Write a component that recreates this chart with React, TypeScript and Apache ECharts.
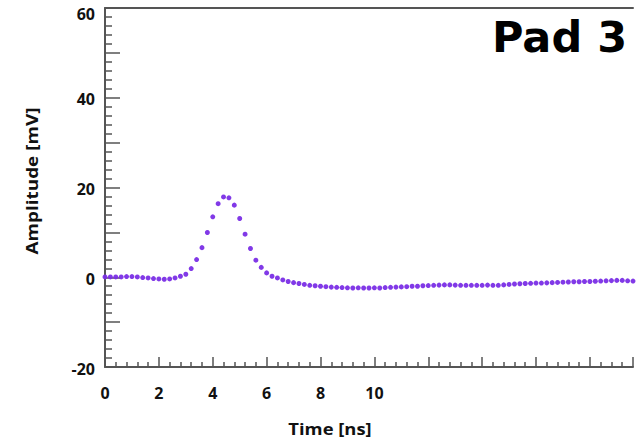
import React, { useEffect, useRef } from "react";
import * as echarts from "echarts";

// Sampling step of the waveform (ns)
const timeStepNs = 0.2;

// Amplitude samples [mV], one every 0.2 ns starting at t = 0
const amplitudeMv: number[] = [
  0.07, 0.07, 0.07, 0.07, 0.15, 0.15, 0.07, -0.07, -0.15, -0.3,
  -0.37, -0.45, -0.37, -0.15, 0.22, 0.67, 1.93, 3.94, 6.6, 9.97,
  13.47, 16.4, 17.9, 17.7, 16.07, 13.1, 9.6, 6.4, 3.8, 2.2,
  0.97, 0.22, -0.15, -0.6, -0.95, -1.2, -1.4, -1.6, -1.8, -1.9,
  -2.0, -2.1, -2.2, -2.25, -2.3, -2.35, -2.4, -2.35, -2.4, -2.4,
  -2.35, -2.4, -2.3, -2.25, -2.2, -2.15, -2.1, -2.0, -2.0, -1.9,
  -1.85, -1.8, -1.75, -1.7, -1.7, -1.75, -1.8, -1.8, -1.8, -1.8,
  -1.8, -1.75, -1.8, -1.8, -1.7, -1.6, -1.5, -1.45, -1.4, -1.35,
  -1.3, -1.3, -1.25, -1.2, -1.15, -1.1, -1.05, -1.0, -1.0, -0.95,
  -0.95, -0.9, -0.85, -0.8, -0.75, -0.7, -0.7, -0.8, -0.85,
];

// Axis ranges / ticks
const xMin = 0;
const xMax = 19.6;
const xInterval = 2;
const xLabelMax = 10;
const yMin = -20;
const yMax = 60;
const yInterval = 10;
const yLabelStep = 20;

const title = "Pad 3";
const xName = "Time [ns]";
const yName = "Amplitude [mV]";

const axisColor = "#555555";
const dotColor = "#7a2ee6";
const font = "'Open Sans', 'DejaVu Sans', sans-serif";

export default function App() {
  const ref = useRef<HTMLDivElement>(null);

  useEffect(() => {
    if (!ref.current) return;
    const chart = echarts.init(ref.current, null, { renderer: "svg" });
    const points = amplitudeMv.map((v, i) => [
      Math.round(i * timeStepNs * 100) / 100,
      v,
    ]);
    const labelStyle = {
      color: "#111111",
      fontFamily: font,
      fontWeight: "bold",
      fontSize: 16,
    };
    chart.setOption({
      animation: false,
      backgroundColor: "#ffffff",
      grid: { left: 105, top: 8, right: 0, bottom: 75 },
      xAxis: [
        {
          type: "value",
          min: xMin,
          max: xMax,
          interval: xInterval,
          axisLine: { show: true, onZero: false, lineStyle: { color: axisColor, width: 2 } },
          axisTick: {
            show: true,
            inside: true,
            length: 10,
            lineStyle: { color: axisColor, width: 1.5 },
          },
          minorTick: {
            show: true,
            splitNumber: 5,
            length: 5,
            lineStyle: { color: axisColor, width: 1.5 },
          },
          splitLine: { show: false },
          axisLabel: {
            margin: 18,
            ...labelStyle,
            formatter: (v: number) => (v <= xLabelMax ? String(v) : ""),
          },
        },
        {
          type: "value",
          position: "top",
          min: xMin,
          max: xMax,
          axisLine: { show: true, onZero: false, lineStyle: { color: axisColor, width: 2 } },
          axisTick: { show: false },
          axisLabel: { show: false },
          splitLine: { show: false },
        },
      ],
      yAxis: {
        type: "value",
        min: yMin,
        max: yMax,
        interval: yInterval,
        axisLine: { show: true, onZero: false, lineStyle: { color: axisColor, width: 2 } },
        axisTick: {
          show: true,
          inside: true,
          length: 15,
          lineStyle: { color: axisColor, width: 1.5 },
        },
        minorTick: {
          show: true,
          splitNumber: 5,
          length: 7,
          lineStyle: { color: axisColor, width: 1.5 },
        },
        splitLine: { show: false },
        axisLabel: {
          margin: 10,
          ...labelStyle,
          formatter: (v: number) => {
            if (v % yLabelStep !== 0) return "";
            return v === yMax ? `{top|${v}}` : `{n|${v}}`;
          },
          rich: {
            n: { ...labelStyle, padding: [3, 0, 0, 0] },
            top: { ...labelStyle, padding: [12, 0, 0, 0] },
          },
        },
      },
      graphic: [
        {
          type: "text",
          left: 492,
          top: 15,
          style: {
            text: title,
            fill: "#000000",
            font: "bold 43px 'DejaVu Sans', sans-serif",
          },
        },
        {
          type: "text",
          x: 330,
          y: 429,
          scaleX: 1.15,
          style: {
            text: xName,
            fill: "#111111",
            font: `bold 16px ${font}`,
            align: "center",
            verticalAlign: "middle",
          },
        },
        {
          type: "text",
          x: 32,
          y: 181,
          rotation: Math.PI / 2,
          scaleX: 1.18,
          style: {
            text: yName,
            fill: "#111111",
            font: `bold 16px ${font}`,
            align: "center",
            verticalAlign: "middle",
          },
        },
      ],
      series: [
        {
          type: "scatter",
          xAxisIndex: 0,
          data: points,
          symbol: "circle",
          symbolSize: 5,
          clip: false,
          itemStyle: { color: dotColor, opacity: 0.95 },
        },
      ],
    });
    return () => chart.dispose();
  }, []);

  return (
    <div
      ref={ref}
      style={{ position: "fixed", left: 0, top: 0, width: 636, height: 442 }}
    />
  );
}
